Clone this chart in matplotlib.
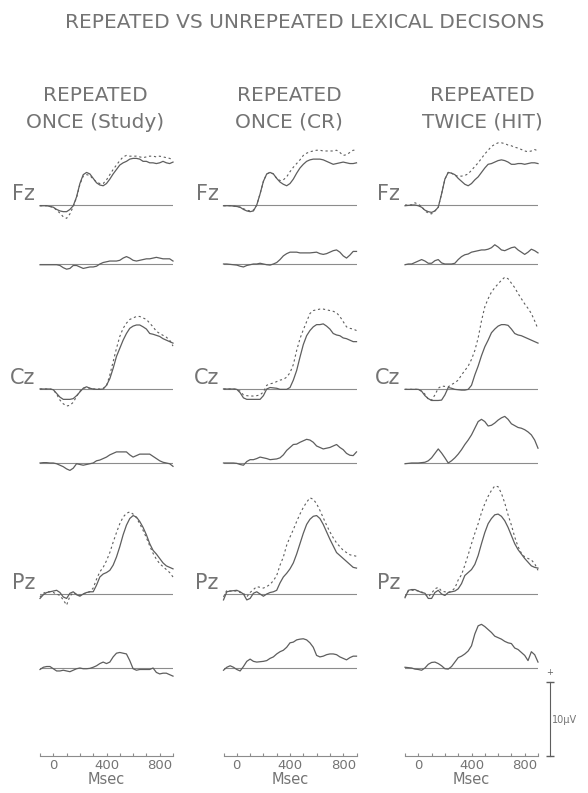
import matplotlib
matplotlib.use("Agg")
from matplotlib import pyplot as plt
from matplotlib import font_manager

# Sample times (ms) shared by every waveform
times = list(range(-100, 901, 25))

# Column 1: repeated once (study)
study_fz_solid = [-0.1, -0.1, -0.1, -0.2, -0.3, -0.6, -0.8, -0.9, -0.9, -0.6, -0.1, 1.1, 2.9, 4.1, 4.4, 4.2, 3.6, 3.0, 2.7, 2.6, 2.9,
                  3.5, 4.2, 4.8, 5.4, 5.7, 5.9, 6.2, 6.3, 6.3, 6.2, 5.9, 5.9, 5.7, 5.7, 5.6, 5.7, 5.9, 5.7, 5.6, 5.8]
study_fz_dotted = [-0.1, -0.1, -0.1, -0.2, -0.3, -0.7, -1.1, -1.6, -1.8, -1.2, -0.2, 1.0, 2.8, 3.9, 4.1, 4.0, 3.5, 3.1, 2.9, 2.9, 3.4,
                   4.1, 4.8, 5.4, 6.0, 6.5, 6.7, 6.6, 6.6, 6.6, 6.5, 6.4, 6.5, 6.6, 6.6, 6.5, 6.6, 6.5, 6.4, 6.3, 6.1]
study_fz_diff = [-0.1, -0.1, -0.1, -0.1, -0.1, -0.1, -0.2, -0.5, -0.7, -0.6, -0.2, -0.2, -0.4, -0.6, -0.5, -0.4, -0.4, -0.3, 0.0, 0.2, 0.3,
                 0.4, 0.4, 0.4, 0.5, 0.8, 1.0, 0.8, 0.5, 0.4, 0.5, 0.6, 0.7, 0.7, 0.8, 0.9, 0.8, 0.7, 0.7, 0.7, 0.4]
study_cz_solid = [0.0, 0.0, 0.0, 0.0, -0.1, -0.6, -1.1, -1.4, -1.4, -1.4, -1.3, -0.9, -0.4, 0.1, 0.3, 0.1, 0.0, -0.05, -0.05, 0.0, 0.5,
                  1.4, 2.8, 4.4, 5.5, 6.6, 7.5, 8.2, 8.5, 8.65, 8.65, 8.4, 8.1, 7.5, 7.4, 7.25, 7.1, 6.8, 6.6, 6.4, 6.2]
study_cz_dotted = [0.0, 0.0, 0.0, 0.0, -0.1, -0.7, -1.5, -2.0, -2.3, -2.2, -1.8, -1.0, -0.3, 0.1, 0.2, 0.1, 0.0, 0.0, 0.0, 0.1, 0.4,
                   1.9, 3.7, 5.5, 7.1, 8.2, 8.9, 9.4, 9.6, 9.8, 9.8, 9.6, 9.4, 8.9, 8.4, 7.8, 7.5, 7.25, 7.0, 6.6, 5.8]
study_cz_diff = [0.0, 0.05, 0.05, 0.0, 0.0, -0.1, -0.3, -0.5, -0.8, -1.0, -0.7, -0.1, -0.2, -0.3, -0.2, -0.1, 0.0, 0.3, 0.4, 0.6, 0.8,
                 1.1, 1.3, 1.5, 1.5, 1.5, 1.5, 1.1, 0.8, 1.0, 1.2, 1.2, 1.2, 1.2, 0.9, 0.6, 0.3, 0.1, 0.0, -0.1, -0.45]
study_pz_solid = [-0.6, -0.1, 0.2, 0.3, 0.4, 0.5, 0.2, -0.4, -0.6, 0.1, 0.3, -0.1, -0.3, 0.0, 0.2, 0.3, 0.3, 1.2, 2.3, 2.7, 2.9,
                  3.2, 3.9, 5.0, 6.4, 8.0, 9.3, 10.2, 10.6, 10.4, 9.8, 9.0, 8.0, 6.8, 5.9, 5.4, 4.8, 4.2, 3.8, 3.6, 3.4]
study_pz_dotted = [-0.4, 0.1, 0.3, 0.3, 0.2, 0.0, -0.2, -0.8, -1.5, -0.3, 0.2, 0.0, -0.2, 0.0, 0.2, 0.3, 0.8, 2.0, 3.0, 3.6, 4.5,
                   5.6, 7.0, 8.3, 9.5, 10.4, 10.9, 11.1, 10.8, 10.3, 9.5, 8.6, 7.6, 6.5, 5.5, 4.7, 4.1, 3.7, 3.3, 2.9, 2.3]
study_pz_diff = [-0.2, 0.1, 0.2, 0.2, -0.1, -0.4, -0.4, -0.3, -0.4, -0.5, -0.3, -0.1, 0.0, -0.1, -0.1, -0.05, 0.1, 0.3, 0.6, 0.8, 0.6,
                 0.8, 1.5, 2.0, 2.1, 2.0, 1.9, 1.0, -0.1, -0.3, -0.2, -0.2, -0.2, -0.2, 0.0, -0.6, -0.8, -0.7, -0.7, -0.9, -1.1]

# Column 2: repeated once (CR)
cr_fz_solid = [-0.1, -0.1, -0.1, -0.15, -0.2, -0.3, -0.6, -0.8, -0.9, -0.8, 0.0, 1.5, 3.2, 4.2, 4.4, 4.2, 3.6, 3.1, 2.8, 2.6, 2.9,
               3.5, 4.3, 5.0, 5.5, 5.9, 6.1, 6.2, 6.2, 6.2, 6.1, 5.9, 5.7, 5.5, 5.6, 5.7, 5.8, 5.7, 5.6, 5.6, 5.7]
cr_fz_dotted = [-0.1, -0.1, -0.1, -0.15, -0.2, -0.3, -0.5, -0.7, -0.8, -0.7, 0.0, 1.5, 3.2, 4.2, 4.4, 4.2, 3.6, 3.3, 3.4, 3.8, 4.5,
                5.1, 5.6, 6.1, 6.7, 7.0, 7.2, 7.3, 7.4, 7.4, 7.3, 7.3, 7.3, 7.3, 7.4, 7.1, 6.7, 6.8, 7.1, 7.4, 7.4]
cr_fz_diff = [0.0, 0.0, -0.05, -0.1, -0.15, -0.3, -0.4, -0.2, -0.1, 0.0, 0.0, 0.1, 0.0, -0.1, -0.15, 0.0, 0.2, 0.6, 1.1, 1.4, 1.6,
              1.6, 1.6, 1.5, 1.5, 1.5, 1.5, 1.55, 1.6, 1.4, 1.3, 1.4, 1.6, 1.8, 1.9, 1.6, 1.1, 0.8, 1.2, 1.7, 1.7]
cr_cz_solid = [0.0, 0.0, 0.0, 0.0, -0.05, -0.5, -1.2, -1.4, -1.4, -1.4, -1.4, -1.4, -0.9, 0.0, 0.2, 0.15, 0.1, -0.05, -0.05, -0.05, 0.2,
               1.2, 2.5, 4.3, 6.0, 7.2, 7.9, 8.4, 8.7, 8.7, 8.8, 8.5, 8.1, 7.5, 7.3, 7.2, 6.9, 6.8, 6.6, 6.4, 6.4]
cr_cz_dotted = [0.0, 0.0, 0.0, 0.0, -0.05, -0.3, -0.8, -0.9, -0.95, -0.95, -0.9, -0.8, -0.4, 0.5, 0.7, 0.8, 1.0, 1.2, 1.3, 1.6, 2.2,
                3.3, 5.2, 6.8, 8.0, 9.1, 10.2, 10.6, 10.7, 10.8, 10.8, 10.7, 10.6, 10.5, 10.3, 9.8, 9.1, 8.4, 8.2, 8.1, 7.9]
cr_cz_diff = [0.0, 0.0, 0.0, 0.0, -0.05, -0.2, -0.3, 0.2, 0.45, 0.45, 0.6, 0.8, 0.7, 0.6, 0.45, 0.5, 0.55, 0.7, 1.1, 1.7, 2.1,
              2.5, 2.55, 2.8, 3.0, 3.2, 3.1, 2.8, 2.3, 2.1, 1.9, 2.0, 2.1, 2.3, 2.5, 2.1, 1.8, 1.3, 1.05, 1.0, 1.5]
cr_pz_solid = [-0.8, 0.3, 0.4, 0.45, 0.5, 0.3, 0.0, -0.8, -0.6, 0.1, 0.3, 0.0, -0.3, 0.0, 0.2, 0.3, 0.5, 1.5, 2.3, 2.8, 3.4,
               4.2, 5.4, 6.8, 8.2, 9.4, 10.1, 10.5, 10.6, 10.2, 9.4, 8.4, 7.4, 6.5, 5.6, 5.2, 4.8, 4.4, 4.0, 3.6, 3.5]
cr_pz_dotted = [-0.4, 0.5, 0.4, 0.4, 0.4, 0.2, 0.1, -0.4, 0.2, 0.6, 1.0, 0.9, 0.8, 1.0, 1.3, 1.8, 2.5, 3.9, 5.0, 6.6, 7.7,
                8.7, 9.8, 10.8, 11.7, 12.4, 13.0, 12.8, 12.2, 11.3, 10.3, 9.3, 8.4, 7.6, 6.9, 6.4, 5.9, 5.6, 5.3, 5.2, 5.1]
cr_pz_diff = [-0.3, 0.1, 0.3, 0.1, -0.2, -0.4, 0.2, 0.9, 1.2, 0.9, 0.8, 0.85, 0.9, 1.0, 1.3, 1.5, 1.9, 2.2, 2.4, 2.8, 3.4,
              3.5, 3.8, 3.9, 3.95, 3.8, 3.4, 2.8, 1.7, 1.5, 1.6, 1.8, 1.9, 1.9, 1.8, 1.5, 1.3, 1.1, 1.4, 1.6, 1.6]

# Column 3: repeated twice (HIT)
hit_fz_solid = [-0.1, -0.05, 0.0, 0.0, -0.1, -0.3, -0.7, -0.9, -1.0, -0.8, -0.3, 1.5, 3.5, 4.4, 4.3, 4.1, 3.6, 3.2, 2.8, 2.6, 2.9,
                3.4, 3.8, 4.4, 5.0, 5.5, 5.6, 5.8, 6.0, 6.1, 6.0, 5.8, 5.5, 5.5, 5.6, 5.6, 5.5, 5.6, 5.7, 5.7, 5.6]
hit_fz_dotted = [0.0, 0.0, 0.0, 0.3, 0.1, -0.2, -0.8, -1.1, -1.2, -0.8, -0.3, 1.5, 3.5, 4.4, 4.3, 4.0, 3.9, 3.9, 4.0, 4.2, 4.7,
                 5.2, 5.7, 6.3, 6.9, 7.4, 7.9, 8.2, 8.4, 8.4, 8.3, 8.1, 8.0, 7.8, 7.7, 7.5, 7.3, 7.2, 7.3, 7.5, 7.3]
hit_fz_diff = [-0.1, 0.0, 0.0, 0.2, 0.4, 0.6, 0.4, 0.1, 0.1, 0.45, 0.6, 0.15, 0.0, 0.0, 0.0, 0.1, 0.6, 1.0, 1.25, 1.35, 1.6,
               1.7, 1.8, 1.9, 1.9, 2.0, 2.2, 2.6, 2.3, 1.9, 1.8, 2.0, 2.2, 2.3, 1.9, 1.6, 1.3, 1.6, 2.0, 1.8, 1.5]
hit_cz_solid = [-0.05, -0.05, -0.05, -0.05, -0.05, -0.3, -0.9, -1.3, -1.55, -1.55, -1.55, -1.5, -0.8, 0.2, 0.1, -0.05, -0.1, -0.15, -0.15, -0.05, 0.5,
                1.9, 3.1, 4.5, 5.7, 6.6, 7.6, 8.1, 8.5, 8.7, 8.7, 8.6, 8.1, 7.5, 7.3, 7.2, 7.0, 6.8, 6.6, 6.4, 6.2]
hit_cz_dotted = [-0.05, -0.05, -0.05, -0.05, -0.05, -0.3, -0.7, -1.4, -1.5, -0.8, 0.1, 0.4, 0.35, 0.3, 0.6, 0.85, 1.2, 1.9, 2.5, 3.1, 4.0,
                 5.2, 6.9, 9.2, 11.1, 12.2, 13.1, 13.7, 14.2, 14.7, 15.1, 14.9, 14.3, 13.7, 12.9, 12.2, 11.5, 10.9, 10.2, 9.2, 8.1]
hit_cz_diff = [-0.1, -0.05, 0.0, 0.0, 0.0, 0.05, 0.1, 0.3, 0.7, 1.3, 1.9, 1.35, 0.7, 0.0, 0.3, 0.7, 1.2, 1.8, 2.5, 3.1, 3.8,
               4.7, 5.6, 5.9, 5.6, 5.0, 5.1, 5.4, 5.8, 6.1, 6.3, 5.9, 5.3, 5.05, 4.8, 4.7, 4.5, 4.2, 3.8, 3.1, 2.0]
hit_pz_solid = [-0.5, 0.5, 0.6, 0.6, 0.4, 0.2, 0.1, -0.6, -0.6, 0.2, 0.5, 0.0, -0.2, 0.2, 0.3, 0.4, 0.7, 1.4, 2.5, 2.9, 3.3,
                4.0, 5.2, 6.8, 8.3, 9.5, 10.2, 10.7, 10.8, 10.5, 9.9, 9.0, 7.9, 6.8, 6.0, 5.4, 4.8, 4.3, 3.8, 3.6, 3.5]
hit_pz_dotted = [-0.4, 0.4, 0.5, 0.5, 0.4, 0.3, 0.0, -0.4, 0.1, 0.7, 0.9, 0.4, 0.3, 0.2, 0.4, 0.8, 1.9, 2.6, 3.9, 5.3, 6.8,
                 8.2, 9.5, 11.0, 12.2, 13.2, 14.0, 14.6, 14.5, 13.6, 12.3, 10.7, 9.3, 7.7, 6.4, 5.5, 5.0, 4.8, 4.6, 4.1, 3.2]
hit_pz_diff = [0.1, 0.05, 0.0, -0.15, -0.2, -0.3, 0.0, 0.5, 0.75, 0.8, 0.6, 0.3, -0.1, -0.15, 0.2, 0.8, 1.4, 1.6, 1.9, 2.3, 3.0,
               4.6, 5.7, 5.9, 5.6, 5.2, 4.8, 4.3, 4.1, 3.9, 3.6, 3.4, 3.3, 2.7, 2.5, 2.1, 1.7, 1.0, 2.2, 1.8, 0.8]

# Text
title = "REPEATED VS UNREPEATED LEXICAL DECISONS"
column_titles = [("REPEATED", "ONCE (Study)"), ("REPEATED", "ONCE (CR)"), ("REPEATED", "TWICE (HIT)")]
electrodes = ["Fz", "Cz", "Pz"]
time_ticks = list(range(-100, 901, 100))
time_tick_labels = ["", "0", "", "", "", "400", "", "", "", "800", ""]
scale_bar_uv = 10

waves = [
    [(study_fz_solid, study_fz_dotted, study_fz_diff),
     (study_cz_solid, study_cz_dotted, study_cz_diff),
     (study_pz_solid, study_pz_dotted, study_pz_diff)],
    [(cr_fz_solid, cr_fz_dotted, cr_fz_diff),
     (cr_cz_solid, cr_cz_dotted, cr_cz_diff),
     (cr_pz_solid, cr_pz_dotted, cr_pz_diff)],
    [(hit_fz_solid, hit_fz_dotted, hit_fz_diff),
     (hit_cz_solid, hit_cz_dotted, hit_cz_diff),
     (hit_pz_solid, hit_pz_dotted, hit_pz_diff)],
]

# Layout in pixels
W, H = 588, 793
UV_PX = 7.4                    # pixels per microvolt
COL_LEFT = [40, 223.5, 405]    # x pixel of -100 ms in each column
COL_W = 133
WAVE_BASE = [205, 389, 594]    # baselines of the electrode rows
DIFF_BASE = [264, 463, 668]    # baselines of the difference rows
TIME_AXIS_Y = 755.7
Y_LO, Y_HI = -3, 16

LINE_C = "#5e5e5e"
BASE_C = "#8c8c8c"
TEXT_C = "#747474"

available = {f.name for f in font_manager.fontManager.ttflist}
tick_font = "Liberation Sans Narrow" if "Liberation Sans Narrow" in available else "DejaVu Sans"
tick_size = 11 if tick_font != "DejaVu Sans" else 9.5

fig = plt.figure(figsize=(W / 100, H / 100), dpi=100)


def px_axes(left, top, width, height):
    """Adds axes placed with pixel coordinates measured from the top left"""
    ax = fig.add_axes([left / W, 1 - (top + height) / H, width / W, height / H])
    ax.patch.set_visible(False)
    return ax


def wave_axes(left, base_y):
    """Axes in ms / microvolt whose zero line sits at pixel row base_y"""
    ax = px_axes(left, base_y - Y_HI * UV_PX, COL_W, (Y_HI - Y_LO) * UV_PX)
    ax.set_xlim(times[0], times[-1])
    ax.set_ylim(Y_LO, Y_HI)
    ax.axis("off")
    ax.axhline(0, color=BASE_C, lw=0.8)
    return ax


for c, col_waves in enumerate(waves):
    left = COL_LEFT[c]
    for e, (solid, dotted, diff) in enumerate(col_waves):
        ax = wave_axes(left, WAVE_BASE[e])
        ax.plot(times, solid, color=LINE_C, lw=0.9, clip_on=False)
        ax.plot(times, dotted, color=LINE_C, lw=0.8, linestyle=(0, (2, 2.5)), clip_on=False)
        ax.text(-0.035, 0.7, electrodes[e], transform=ax.get_yaxis_transform(),
                ha="right", va="baseline", fontsize=15, color=TEXT_C)

        dax = wave_axes(left, DIFF_BASE[e])
        dax.plot(times, diff, color=LINE_C, lw=0.9, clip_on=False)

    # Time axis under each column
    tax = px_axes(left, TIME_AXIS_Y - 10, COL_W, 10)
    tax.set_xlim(times[0], times[-1])
    for side in ["top", "left", "right"]:
        tax.spines[side].set_visible(False)
    tax.spines["bottom"].set_color(BASE_C)
    tax.spines["bottom"].set_linewidth(0.8)
    tax.get_yaxis().set_visible(False)
    tax.set_xticks(time_ticks)
    tax.set_xticklabels(time_tick_labels, fontfamily=tick_font)
    tax.tick_params(axis="x", direction="in", length=2.5, width=0.8, color=BASE_C,
                    labelsize=tick_size, labelcolor=TEXT_C, pad=2.5)
    tax.set_xlabel("Msec", fontsize=10.5, color=TEXT_C, labelpad=0)

# Scale bar next to the last column
sb = px_axes(540, TIME_AXIS_Y - Y_HI * UV_PX, 20, (Y_HI - Y_LO) * UV_PX)
sb.set_xlim(0, 1)
sb.set_ylim(Y_LO, Y_HI)
sb.axis("off")
sb.plot([0.5, 0.5], [0, scale_bar_uv], color=LINE_C, lw=0.8, marker="_", markersize=6)
sb.text(0.5, scale_bar_uv + 1.2, "+", ha="center", va="center", fontsize=6, color=LINE_C)
sb.text(0.62, scale_bar_uv / 2 - 0.2, "%d\u03bcV" % scale_bar_uv, ha="left", va="center", fontsize=7, color=TEXT_C)

# Title and column headers
fig.text(305 / W, 1 - 23 / H, title, ha="center", va="center", fontsize=14.5, color=TEXT_C)
header_x = [95, 289, 482]
for (line1, line2), hx in zip(column_titles, header_x):
    fig.text(hx / W, 1 - 95.5 / H, line1, ha="center", va="center", fontsize=14.5, color=TEXT_C)
    fig.text(hx / W, 1 - 122 / H, line2, ha="center", va="center", fontsize=14.5, color=TEXT_C)

plt.savefig("out.png", dpi=100)
plt.close()
